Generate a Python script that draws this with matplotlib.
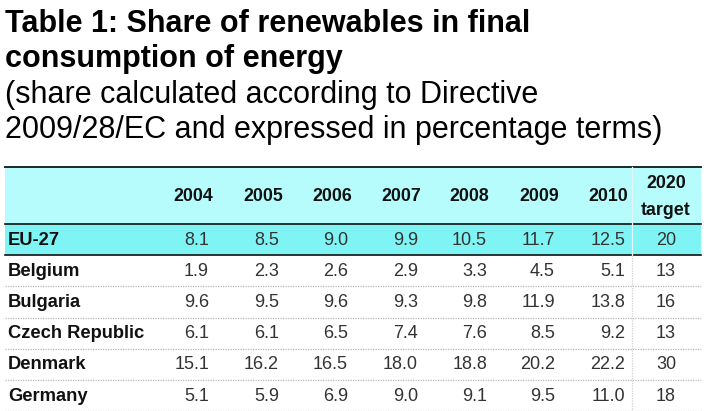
import matplotlib
matplotlib.use("Agg")
import matplotlib.pyplot as plt
from matplotlib.patches import Rectangle

title_lines = ["Table 1: Share of renewables in final", "consumption of energy"]
subtitle_lines = ["(share calculated according to Directive",
                  "2009/28/EC and expressed in percentage terms)"]
years = ["2004", "2005", "2006", "2007", "2008", "2009", "2010"]
target_label = ["2020", "target"]
countries = ["EU-27", "Belgium", "Bulgaria", "Czech Republic", "Denmark", "Germany"]
values = [
    [8.1, 8.5, 9.0, 9.9, 10.5, 11.7, 12.5],
    [1.9, 2.3, 2.6, 2.9, 3.3, 4.5, 5.1],
    [9.6, 9.5, 9.6, 9.3, 9.8, 11.9, 13.8],
    [6.1, 6.1, 6.5, 7.4, 7.6, 8.5, 9.2],
    [15.1, 16.2, 16.5, 18.0, 18.8, 20.2, 22.2],
    [5.1, 5.9, 6.9, 9.0, 9.1, 9.5, 11.0],
]
targets = [20, 13, 16, 13, 30, 18]

W, H = 707, 411
fig = plt.figure(figsize=(W / 100, H / 100), dpi=100)
ax = fig.add_axes([0, 0, 1, 1])
ax.set_xlim(0, W)
ax.set_ylim(H, 0)
ax.axis("off")

FONT = "Liberation Sans"
# titles
ty = [32, 67]
for t, y in zip(title_lines, ty):
    ax.text(5, y, t, fontsize=22, fontweight="bold", family=FONT, va="baseline", ha="left", color="black")
sy = [103, 138]
for t, y in zip(subtitle_lines, sy):
    ax.text(5, y, t, fontsize=22, family=FONT, va="baseline", ha="left", color="black")

left, right = 5, 701
top = 167
head_bot = 224
row_h = 31.2
# backgrounds
ax.add_patch(Rectangle((left, top), right - left, head_bot - top, color="#B6FCFC", lw=0, zorder=0))
ax.add_patch(Rectangle((left, head_bot), right - left, row_h, color="#7EF4F4", lw=0, zorder=0))

ax.plot([left, right], [top, top], color="#1a2a2a", lw=1.4)
ax.plot([left, right], [head_bot, head_bot], color="#111111", lw=1.2)
ax.plot([left, right], [head_bot + row_h, head_bot + row_h], color="#111111", lw=1.2)
for i in range(2, len(countries) + 1):
    y = head_bot + row_h * i
    ax.plot([left, right], [y, y], color="#b8b8b8", lw=0.9, ls=(0, (1, 1)))
# vertical separator before target column
vx = 632
ax.plot([vx, vx], [top, head_bot + row_h], color="#e2f4f4", lw=0.9)
ax.plot([vx, vx], [head_bot + row_h, H], color="#d0d0d0", lw=0.9, ls=(0, (1, 1)))

col_right = [209, 279, 348, 418, 487, 555, 625]
head_right = [213, 283, 352, 421, 489, 559, 628]
tx = 666

head_y = 196
for yr, xr in zip(years, head_right):
    ax.text(xr, head_y, yr, fontsize=12.8, fontweight="bold", family=FONT, ha="right", va="center", color="#111111")
ax.text(tx, 183, target_label[0], fontsize=12.8, fontweight="bold", family=FONT, ha="center", va="center", color="#111111")
ax.text(tx, 210, target_label[1], fontsize=12.8, fontweight="bold", family=FONT, ha="center", va="center", color="#111111")

for i, (c, row, tg) in enumerate(zip(countries, values, targets)):
    yc = head_bot + row_h * i + row_h / 2 + 0.5
    ax.text(8, yc, c, fontsize=13.2, fontweight="bold", family=FONT, ha="left", va="center", color="#111111")
    for v, xr in zip(row, col_right):
        ax.text(xr, yc, f"{v:.1f}", fontsize=13, family=FONT, ha="right", va="center", color="#333333")
    ax.text(tx, yc, f"{tg}", fontsize=13, family=FONT, ha="center", va="center", color="#333333")

fig.savefig("out.png", dpi=100)
